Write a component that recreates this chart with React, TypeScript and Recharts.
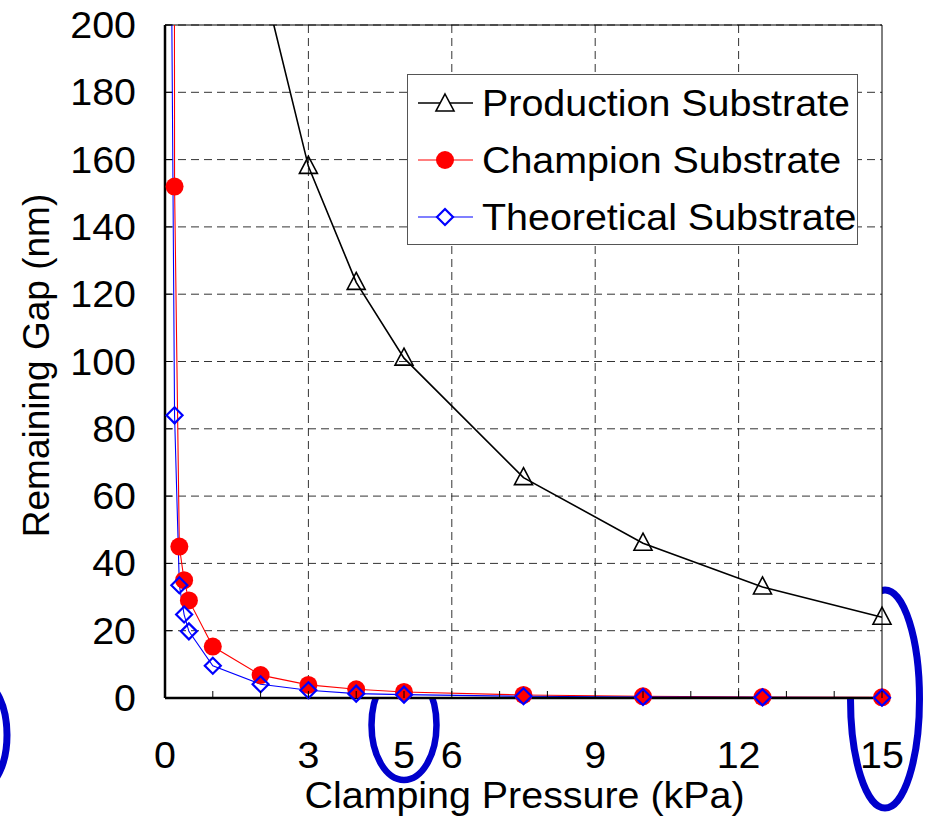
import React from 'react';
import { LineChart, Line, XAxis, YAxis, CartesianGrid, Legend, ReferenceLine } from 'recharts';

const FONT = "'Liberation Sans', Arial, Helvetica, sans-serif";
const FS = 36.5;
const SX = 1.08;

// ---- data ----
const pressureLow = [0.1, 0.2, 0.3, 0.4, 0.5, 1, 2, 3, 4, 5, 7.5, 10, 12.5, 15];
const championGap = [2500, 152, 45, 35, 29, 15.3, 6.8, 3.9, 2.6, 1.8, 0.9, 0.5, 0.3, 0.2];
const theoreticalGap = [290, 84, 33.5, 24.8, 19.8, 9.6, 4.1, 2.3, 1.3, 1.0, 0.5, 0.3, 0.2, 0.1];
const pressureProd = [2, 3, 4, 5, 7.5, 10, 12.5, 15];
const productionGap = [216, 158, 123.5, 101, 65.5, 46, 33, 24];

const xTicks = [0, 1, 2, 3, 4, 5, 6, 7, 8, 9, 10, 11, 12, 13, 14, 15];
const xLabelTicks = [0, 3, 5, 6, 9, 12, 15];
const xGridValues = [3, 6, 9, 12];
const yTicks = [0, 20, 40, 60, 80, 100, 120, 140, 160, 180, 200];
const Y_MAX = 200;
const X_MAX = 15;

const seriesNames = ['Production Substrate', 'Champion Substrate', 'Theoretical Substrate'];

type Pt = { x: number; y: number };
const toPoints = (xs: number[], ys: number[]): Pt[] => xs.map((x, i) => ({ x, y: ys[i] }));
const prodPts = toPoints(pressureProd, productionGap);
const champPts = toPoints(pressureLow, championGap);
const theoPts = toPoints(pressureLow, theoreticalGap);
const inRange = (pts: Pt[]) => pts.filter((p) => p.y <= Y_MAX);

// stretched horizontal text
const SText = ({ x, y, anchor, children }: { x: number; y: number; anchor: 'start' | 'middle' | 'end'; children: React.ReactNode }) => (
  <text
    x={0}
    y={0}
    transform={`translate(${x} ${y}) scale(${SX} 1)`}
    textAnchor={anchor}
    fontSize={FS}
    fontFamily={FONT}
    fill="#000"
  >
    {children}
  </text>
);

// ---- markers ----
const triPath = (cx: number, cy: number) => `M${cx},${cy - 10}L${cx + 9},${cy + 7}L${cx - 9},${cy + 7}Z`;
const diaPath = (cx: number, cy: number) => `M${cx},${cy - 8}L${cx + 8},${cy}L${cx},${cy + 8}L${cx - 8},${cy}Z`;

const TriangleDot = (p: any) => {
  const { cx, cy, index } = p;
  if (cx == null || cy == null) return <g key={`t${index}`} />;
  return <path key={`t${index}`} d={triPath(cx, cy)} fill="none" stroke="#000" strokeWidth={1.6} />;
};
const CircleDot = (p: any) => {
  const { cx, cy, index } = p;
  if (cx == null || cy == null) return <g key={`c${index}`} />;
  return <circle key={`c${index}`} cx={cx} cy={cy} r={9} fill="#ff0000" />;
};
const DiamondDot = (p: any) => {
  const { cx, cy, index } = p;
  if (cx == null || cy == null) return <g key={`d${index}`} />;
  return <path key={`d${index}`} d={diaPath(cx, cy)} fill="none" stroke="#0000ff" strokeWidth={2.2} />;
};

// ---- ticks ----
const XTick = (props: any) => {
  const { x, y, payload } = props;
  const v = payload.value;
  return (
    <g>
      <line x1={x} x2={x} y1={y} y2={y - 7} stroke="#000" strokeWidth={1} />
      {xLabelTicks.includes(v) && (
        <SText x={x} y={y + 70} anchor="middle">
          {v}
        </SText>
      )}
    </g>
  );
};

const YTick = (props: any) => {
  const { x, y, payload } = props;
  return (
    <g>
      <line x1={x} x2={x + 7} y1={y} y2={y} stroke="#000" strokeWidth={1} />
      <SText x={x - 29} y={y + 13} anchor="end">
        {payload.value}
      </SText>
    </g>
  );
};

const YLabel = (p: any) => {
  const vb = p.viewBox || { x: 45, y: 25, width: 120, height: 673 };
  const x = vb.x + 4;
  const cy = vb.y + vb.height / 2 + 4;
  return (
    <text x={x} y={cy} transform={`rotate(-90 ${x} ${cy})`} textAnchor="middle" fontSize={37} fontFamily={FONT} fill="#000">
      Remaining Gap (nm)
    </text>
  );
};

const XLabel = (p: any) => {
  const vb = p.viewBox || { x: 165, y: 698, width: 717, height: 120 };
  const x = vb.x + vb.width / 2 + 1;
  const y = vb.y + 110;
  return (
    <SText x={x} y={y} anchor="middle">
      Clamping Pressure (kPa)
    </SText>
  );
};

// ---- legend ----
const LegendContent = (props: any) => {
  const payload = (props.payload || [])
    .filter((e: any) => seriesNames.includes(e.value))
    .sort((a: any, b: any) => seriesNames.indexOf(a.value) - seriesNames.indexOf(b.value));
  return (
    <svg width={452} height={172} style={{ display: 'block' }}>
      <rect x={0.5} y={0.5} width={450} height={170} fill="#fff" stroke="#555" strokeWidth={1} />
      {payload.map((entry: any, i: number) => {
        const cy = 29 + i * 57;
        const name = entry.value;
        const idx = seriesNames.indexOf(name);
        return (
          <g key={name}>
            <line x1={11} x2={66} y1={cy} y2={cy} stroke={entry.color} strokeWidth={idx === 0 ? 1.6 : 1.2} />
            {idx === 0 && <path d={triPath(38, cy + 1)} fill="#fff" stroke="#000" strokeWidth={1.6} />}
            {idx === 1 && <circle cx={38} cy={cy} r={9} fill="#ff0000" />}
            {idx === 2 && <path d={diaPath(38, cy)} fill="#fff" stroke="#0000ff" strokeWidth={2.2} />}
            <SText x={75} y={cy + 13} anchor="start">
              {name}
            </SText>
          </g>
        );
      })}
    </svg>
  );
};

export default function App() {
  return (
    <div style={{ position: 'absolute', left: 0, top: 0, width: 930, height: 818, background: '#fff', fontFamily: FONT }}>
      {/* annotation ellipses (behind the plot area) */}
      <svg width={930} height={818} style={{ position: 'absolute', left: 0, top: 0 }}>
        <ellipse cx={-18} cy={735} rx={25} ry={52} fill="none" stroke="#0000cc" strokeWidth={7} />
        <ellipse cx={404} cy={725} rx={32.5} ry={55} fill="none" stroke="#0000cc" strokeWidth={6.5} />
        <ellipse cx={885} cy={699} rx={34.5} ry={109} fill="none" stroke="#0000cc" strokeWidth={7} />
      </svg>
      <div style={{ position: 'absolute', left: 0, top: 0 }}>
        <LineChart width={930} height={818} margin={{ top: 25, right: 48, bottom: 0, left: 45 }}>
          <CartesianGrid
            stroke="#333"
            strokeDasharray="8 5"
            strokeWidth={1}
            fill="#fff"
            fillOpacity={1}
            verticalValues={xGridValues}
            horizontalValues={yTicks}
          />
          <XAxis
            dataKey="x"
            type="number"
            domain={[0, X_MAX]}
            ticks={xTicks}
            interval={0}
            tickSize={0}
            tickMargin={0}
            tickLine={false}
            tick={<XTick />}
            height={120}
            axisLine={{ stroke: '#000', strokeWidth: 2.5 }}
            label={{ content: <XLabel /> }}
            allowDuplicatedCategory={false}
          />
          <YAxis
            type="number"
            domain={[0, Y_MAX]}
            ticks={yTicks}
            interval={0}
            allowDataOverflow
            tickSize={0}
            tickMargin={0}
            tickLine={false}
            tick={<YTick />}
            width={120}
            axisLine={{ stroke: '#000', strokeWidth: 2.5 }}
            label={{ content: <YLabel /> }}
          />
          <YAxis yAxisId="m" type="number" domain={[0, Y_MAX]} hide />
          <ReferenceLine y={Y_MAX} stroke="#000" strokeWidth={1} />
          <ReferenceLine x={X_MAX} stroke="#000" strokeWidth={1} />

          <Line data={prodPts} dataKey="y" name={seriesNames[0]} stroke="#000" strokeWidth={1.6} dot={false} isAnimationActive={false} />
          <Line data={inRange(prodPts)} dataKey="y" yAxisId="m" name="p-mark" stroke="none" legendType="none" dot={TriangleDot} activeDot={false} isAnimationActive={false} />
          <Line data={champPts} dataKey="y" name={seriesNames[1]} stroke="#ff0000" strokeWidth={1.1} dot={false} isAnimationActive={false} />
          <Line data={inRange(champPts)} dataKey="y" yAxisId="m" name="c-mark" stroke="none" legendType="none" dot={CircleDot} activeDot={false} isAnimationActive={false} />
          <Line data={theoPts} dataKey="y" name={seriesNames[2]} stroke="#0000ff" strokeWidth={1.1} dot={false} isAnimationActive={false} />
          <Line data={inRange(theoPts)} dataKey="y" yAxisId="m" name="t-mark" stroke="none" legendType="none" dot={DiamondDot} activeDot={false} isAnimationActive={false} />

          <Legend
            layout="vertical"
            align="center"
            verticalAlign="middle"
            content={<LegendContent />}
            wrapperStyle={{ left: 407, top: 74, width: 452, height: 172, margin: 0, padding: 0 }}
          />
        </LineChart>
      </div>
    </div>
  );
}
